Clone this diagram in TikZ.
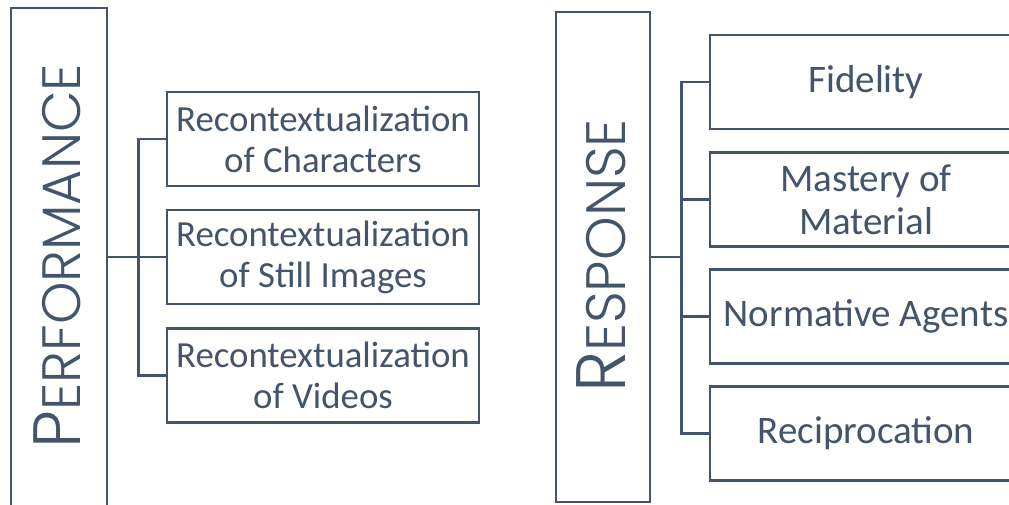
\documentclass[tikz,border=0pt]{standalone}
\usepackage{fontspec}
\setmainfont{Carlito}
\newfontfamily\headfont{Poppins Light}
\definecolor{slate}{HTML}{44546A}
\newcommand{\perfinitial}[1]{{\fontsize{67}{67}\selectfont #1}}
\newcommand{\perfrest}[1]{{\fontsize{54}{54}\selectfont #1}}
\newcommand{\respinitial}[1]{{\fontsize{70}{70}\selectfont #1}}
\newcommand{\resprest}[1]{{\fontsize{55.5}{55.5}\selectfont #1}}
\begin{document}
\begin{tikzpicture}[x=1pt,y=-1pt,
  frame/.style={draw=slate, line width=2.7pt, inner sep=0pt},
  leaf/.style={frame, minimum width=312pt, minimum height=94pt, text=slate,
    align=center, inner sep=3pt, font=\fontsize{36.8}{41}\selectfont},
  rleaf/.style={leaf, font=\fontsize{39}{43}\selectfont},
  headtext/.style={rotate=90, text=slate, inner sep=0pt, font=\headfont},
  link/.style={draw=slate, line width=2.7pt}]
\useasboundingbox (0,0) rectangle (1009,504);
\fill[white] (0,0) rectangle (1009,504);

% left column: performance
\node[frame, minimum width=96pt, minimum height=498pt] (perf) at (59,257) {};
\node[headtext] (perftext) at (57,256) {\perfinitial{P}\perfrest{ERFORMANCE}};
\node[leaf] (pc1) at (323,139) {Recontextualization\\of Characters};
\node[leaf] (pc2) at (323,257) {Recontextualization\\of Still Images};
\node[leaf] (pc3) at (323,375.5) {Recontextualization\\of Videos};

\path (perf.east) ++(30,0) coordinate (pj);
\draw[link] (perf.east) -- (pj);
\draw[link] (pc1.west) -| (pj) |- (pc3.west);
\draw[link] (pj) -- (pc2.west);

% right column: response
\node[frame, minimum width=94pt, minimum height=490pt] (resp) at (603,257) {};
\node[headtext] (resptext) at (601,256) {\respinitial{R}\resprest{ESPONSE}};
\node[rleaf] (rc1) at (866,82) {Fidelity};
\node[rleaf] (rc2) at (866,199.5) {Mastery of\\Material};
\node[rleaf] (rc3) at (866,316.5) {Normative Agents};
\node[rleaf] (rc4) at (866,433.5) {Reciprocation};

\path (resp.east) ++(30,0) coordinate (rj);
\draw[link] (resp.east) -- (rj);
\draw[link] (rc1.west) -| (rj) |- (rc4.west);
\draw[link] (rj |- rc2.west) -- (rc2.west);
\draw[link] (rj |- rc3.west) -- (rc3.west);
\end{tikzpicture}
\end{document}
